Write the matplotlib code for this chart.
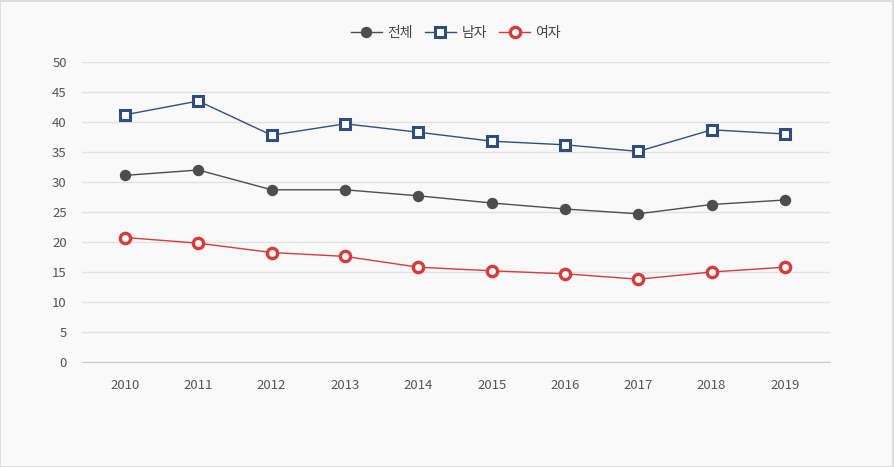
import matplotlib.pyplot as plt
from matplotlib.patches import Rectangle

plt.rcParams['font.family'] = ['Noto Sans CJK KR', 'DejaVu Sans']

years = ["2010", "2011", "2012", "2013", "2014", "2015", "2016", "2017", "2018", "2019"]
total = [31.1, 32.0, 28.7, 28.7, 27.7, 26.5, 25.5, 24.7, 26.25, 27.0]
male = [41.2, 43.5, 37.8, 39.7, 38.3, 36.8, 36.2, 35.1, 38.7, 38.0]
female = [20.75, 19.8, 18.25, 17.6, 15.8, 15.2, 14.7, 13.8, 15.0, 15.8]

bg = "#f9f9f9"
W, H = 895, 467
fig = plt.figure(figsize=(W / 100, H / 100), dpi=100, facecolor=bg)
fig.patches.append(Rectangle((0.5 / W, 0.5 / H), 1 - 2.5 / W, 1 - 1.5 / H,
                             transform=fig.transFigure, fill=False,
                             edgecolor="#d8d8d8", lw=1.2))

ax = fig.add_axes([82 / W, (H - 362) / H, (830 - 82) / W, 300 / H])
ax.set_facecolor(bg)

x = list(range(len(years)))
ax.plot(x, total, color="#4d4d4d", lw=1, marker="o", ms=7.2,
        markerfacecolor="#4d4d4d", markeredgecolor="#4d4d4d", label="전체", zorder=3)
ax.plot(x, male, color="#2f5080", lw=1, marker="s", ms=7.2, mew=2.2,
        markerfacecolor="white", markeredgecolor="#2f4d7e", label="남자", zorder=3)
ax.plot(x, female, color="#d93a3a", lw=1, marker="o", ms=7.4, mew=2.4,
        markerfacecolor="white", markeredgecolor="#d93a3a", label="여자", zorder=3)

ax.set_xlim(-0.586, 9.614)
ax.set_ylim(0, 50)
ax.set_yticks(range(0, 51, 5))
ax.set_xticks(x)
ax.set_xticklabels(years)
ax.grid(axis="y", color="#e2e2e2", lw=1)
ax.set_axisbelow(True)
for s in ["top", "right", "left"]:
    ax.spines[s].set_visible(False)
ax.spines["bottom"].set_color("#c8c8c8")
ax.tick_params(length=0, labelsize=9.5, colors="#555555")
ax.tick_params(axis="y", pad=11)
ax.tick_params(axis="x", pad=12)

ax.legend(loc="lower center", bbox_to_anchor=(0.5, 1.033), ncol=3, frameon=False,
          fontsize=10, handlelength=2.2, columnspacing=0.9, handletextpad=0.4,
          labelcolor="#444444")

fig.savefig("out.png", dpi=100, facecolor=bg)
